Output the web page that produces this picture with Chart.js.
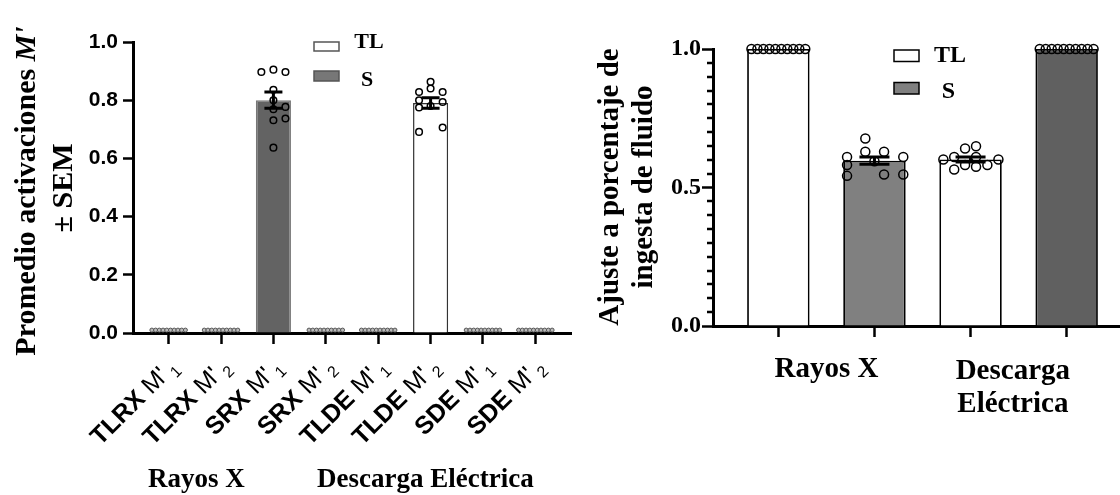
<!DOCTYPE html>
<html>
<head>
<meta charset="utf-8">
<script src="https://cdn.jsdelivr.net/npm/chart.js@4.4.1/dist/chart.umd.min.js"></script>
<style>
    html, body { margin: 0; padding: 0; background: #fff; overflow: hidden; width: 1120px; height: 495px; }
    #grafico1 { position: absolute; left: 0; top: 0; }
    #grafico2 { position: absolute; left: 560px; top: 0; }
</style>
</head>
<body>
<canvas id="grafico1" width="600" height="495"></canvas>
<canvas id="grafico2" width="600" height="495"></canvas>
<script>
// ---- Datos gráfica izquierda ----
const categoriasIzq = ['TLRX', 'TLRX', 'SRX', 'SRX', 'TLDE', 'TLDE', 'SDE', 'SDE'];
const subindicesIzq = ['1', '2', '1', '2', '1', '2', '1', '2'];
const gruposIzq = ['TL', 'TL', 'S', 'S', 'TL', 'TL', 'S', 'S'];
const promediosIzq = [0, 0, 0.80, 0, 0, 0.79, 0, 0];
const semIzq = [0, 0, 0.028, 0, 0, 0.018, 0, 0];
const puntosCero = [0.01, 0.01, 0.01, 0.01, 0.01, 0.01, 0.01, 0.01, 0.01, 0.01];
const puntosSRX = [0.897, 0.905, 0.897, 0.836, 0.800, 0.769, 0.777, 0.731, 0.737, 0.637];
const puntosTLDE = [0.863, 0.828, 0.840, 0.828, 0.800, 0.794, 0.775, 0.780, 0.691, 0.706];
const ticksIzq = [0, 0.2, 0.4, 0.6, 0.8, 1.0];
const gruposEtiquetaIzq = ['Rayos X', 'Descarga Eléctrica'];
const leyenda = ['TL', 'S'];

// ---- Datos gráfica derecha ----
const categoriasDer = ['Rayos X', 'Rayos X', 'Descarga', 'Descarga'];
const gruposDer = ['TL', 'S', 'TL', 'S'];
const promediosDer = [1.0, 0.597, 0.601, 1.0];
const semDer = [0, 0.013, 0.009, 0];
const puntosTLRX = [1, 1, 1, 1, 1, 1, 1, 1, 1, 1];
const puntosSRX2 = [0.677, 0.629, 0.629, 0.610, 0.610, 0.581, 0.542, 0.547, 0.547, 0.595];
const puntosTLDE2 = [0.641, 0.649, 0.601, 0.610, 0.610, 0.601, 0.565, 0.581, 0.575, 0.581];
const puntosSDE2 = [1, 1, 1, 1, 1, 1, 1, 1, 1, 1];
const ticksDer = [0, 0.5, 1.0];

// posiciones horizontales de los puntos (desplazamiento dentro de la barra)
const columnasSRX = [-0.23, 0, 0.23, 0, 0, 0, 0.23, 0, 0.23, 0];
const columnasTLDE = [0, -0.22, 0, 0.23, -0.22, 0.23, -0.22, 0, -0.22, 0.23];
const columnasSRX2 = [-0.095, -0.095, 0.1, -0.285, 0.3, -0.285, -0.285, 0.1, 0.3, 0];
const columnasTLDE2 = [-0.057, 0.057, -0.283, -0.17, 0.057, 0.29, -0.17, -0.057, 0.057, 0.175];

const serif = '"Liberation Serif", "Times New Roman", serif';
const sans = '"Liberation Sans", Arial, sans-serif';

// fila apretada de puntos (para valores iguales)
function fila(valores, centro, ancho) {
    return valores.map((v, k) => ({ x: centro - ancho + (2 * ancho * k) / (valores.length - 1), y: v }));
}
function dispersos(valores, centro, cols) {
    return valores.map((v, k) => ({ x: centro + cols[k], y: v }));
}

function barrasError(chart, promedios, sem, medioCap) {
    const ctx = chart.ctx;
    const xs = chart.scales.x, ys = chart.scales.y;
    ctx.save();
    ctx.strokeStyle = '#000';
    ctx.lineWidth = 3;
    promedios.forEach((p, i) => {
        if (!sem[i]) return;
        const x = xs.getPixelForValue(i);
        const y1 = ys.getPixelForValue(p + sem[i]);
        const y2 = ys.getPixelForValue(p - sem[i]);
        ctx.beginPath();
        ctx.moveTo(x, y1); ctx.lineTo(x, y2);
        ctx.moveTo(x - medioCap, y1); ctx.lineTo(x + medioCap, y1);
        ctx.moveTo(x - medioCap, y2); ctx.lineTo(x + medioCap, y2);
        ctx.stroke();
    });
    ctx.restore();
}

function cajaLeyenda(ctx, x, y, w, h, relleno, borde) {
    ctx.fillStyle = relleno;
    ctx.fillRect(x, y, w, h);
    ctx.strokeStyle = borde;
    ctx.lineWidth = 1.5;
    ctx.strokeRect(x, y, w, h);
}

function etiquetaRotada(ctx, x, y, base, sub) {
    ctx.save();
    ctx.translate(x, y);
    ctx.rotate(-Math.PI / 4);
    ctx.fillStyle = '#000';
    ctx.textBaseline = 'alphabetic';
    ctx.textAlign = 'left';
    const f1 = `bold 25px ${sans}`, f2 = `25px ${sans}`, f3 = `16px ${sans}`;
    ctx.font = f1; const w1 = ctx.measureText(base + ' ').width;
    ctx.font = f2; const w2 = ctx.measureText("M'").width + 4;
    ctx.font = f3; const w3 = ctx.measureText(sub).width;
    let cx = -(w1 + w2 + w3);
    ctx.font = f1; ctx.fillText(base + ' ', cx, 0); cx += w1;
    ctx.font = f2; ctx.fillText("M'", cx, 0); cx += w2;
    ctx.font = f3; ctx.fillText(sub, cx, 6);
    ctx.restore();
}

// ---------------- Gráfica izquierda ----------------
const coloresIzq = { TL: '#ffffff', S: '#636363' };
const bordesIzq = { TL: '#333333', S: '#777777' };
const puntosIzqGrandes = [
    ...dispersos(puntosSRX, 2, columnasSRX),
    ...dispersos(puntosTLDE, 5, columnasTLDE)
];
const puntosIzqCero = [];
promediosIzq.forEach((p, i) => { if (p === 0) puntosIzqCero.push(...fila(puntosCero, i, 0.32)); });

const plugIzq = {
    id: 'textosIzq',
    afterDatasetsDraw(chart) { barrasError(chart, promediosIzq, semIzq, 9); },
    afterDraw(chart) {
        const ctx = chart.ctx;
        const xs = chart.scales.x;
        categoriasIzq.forEach((c, i) => etiquetaRotada(ctx, xs.getPixelForValue(i) + 10, 368, c, subindicesIzq[i]));

        ctx.save();
        ctx.fillStyle = '#000';
        ctx.textAlign = 'center';
        ctx.textBaseline = 'alphabetic';
        ctx.font = `bold 27px ${serif}`;
        ctx.fillText(gruposEtiquetaIzq[0], xs.getPixelForValue(0.53), 487);
        ctx.fillText(gruposEtiquetaIzq[1], xs.getPixelForValue(4.9), 487);

        // leyenda
        cajaLeyenda(ctx, 314, 42, 25, 9, coloresIzq.TL, '#555');
        cajaLeyenda(ctx, 314, 71, 25, 10, '#777777', '#555');
        ctx.fillStyle = '#000';
        ctx.font = `bold 22px ${serif}`;
        ctx.fillText(leyenda[0], 369, 48);
        ctx.fillText(leyenda[1], 367, 86);

        // título eje Y
        ctx.translate(0, 191);
        ctx.rotate(-Math.PI / 2);
        const t1 = 'Promedio activaciones ';
        ctx.font = `bold 30px ${serif}`;
        const a1 = ctx.measureText(t1).width;
        ctx.font = `italic bold 30px ${serif}`;
        const a2 = ctx.measureText("M'").width;
        ctx.textAlign = 'left';
        ctx.font = `bold 30px ${serif}`;
        ctx.fillText(t1, -(a1 + a2) / 2, 35);
        ctx.font = `italic bold 30px ${serif}`;
        ctx.fillText("M'", -(a1 + a2) / 2 + a1, 35);
        ctx.textAlign = 'center';
        ctx.font = `bold 30px ${serif}`;
        ctx.fillText('± SEM', 3, 72);
        ctx.restore();
    }
};

new Chart(document.getElementById('grafico1'), {
    type: 'bar',
    data: {
        datasets: [
            {
                type: 'scatter',
                data: puntosIzqGrandes,
                pointRadius: 3.3,
                pointBorderWidth: 1.5,
                pointBorderColor: '#000',
                pointBackgroundColor: 'rgba(0,0,0,0)',
                clip: false,
                order: 0
            },
            {
                type: 'scatter',
                data: puntosIzqCero,
                pointRadius: 2,
                pointBorderWidth: 1,
                pointBorderColor: '#555',
                pointBackgroundColor: '#bbb',
                clip: false,
                order: 0
            },
            {
                data: promediosIzq.map((p, i) => ({ x: i, y: p })),
                backgroundColor: gruposIzq.map(g => coloresIzq[g]),
                borderColor: gruposIzq.map(g => bordesIzq[g]),
                borderWidth: 1.5,
                barPercentage: 0.67,
                categoryPercentage: 1,
                order: 1
            }
        ]
    },
    options: {
        responsive: false,
        animation: false,
        layout: { padding: { left: 0, top: 42, right: 29, bottom: 0 } },
        plugins: { legend: { display: false }, tooltip: { enabled: false } },
        scales: {
            x: {
                type: 'linear', min: -0.68, max: 7.68, offset: false, bounds: 'data',
                afterBuildTicks: s => { s.ticks = categoriasIzq.map((c, i) => ({ value: i })); },
                afterFit: s => { s.height = 162; },
                ticks: { display: false },
                grid: { display: true, offset: false, drawOnChartArea: false, drawTicks: true, tickLength: 11, tickWidth: 2.5, tickColor: '#000' },
                border: { display: true, color: '#000', width: 3 }
            },
            y: {
                min: 0, max: 1,
                afterBuildTicks: s => { s.ticks = ticksIzq.map(v => ({ value: v })); },
                afterFit: s => { s.width = 133; },
                ticks: { color: '#000', padding: 5, font: { family: sans, weight: 'bold', size: 21 }, callback: v => v.toFixed(1) },
                grid: { drawOnChartArea: false, tickLength: 10, tickWidth: 2.5, tickColor: '#000' },
                border: { color: '#000', width: 3 }
            }
        }
    },
    plugins: [plugIzq]
});

// ---------------- Gráfica derecha ----------------
const coloresDer = ['#ffffff', '#808080', '#ffffff', '#606060'];
const puntosDer = [
    ...fila(puntosTLRX, 0, 0.28),
    ...dispersos(puntosSRX2, 1, columnasSRX2),
    ...dispersos(puntosTLDE2, 2, columnasTLDE2),
    ...fila(puntosSDE2, 3, 0.28)
];
const ticksMenoresDer = [];
for (let k = 0; k <= 20; k++) ticksMenoresDer.push(k / 20);

const plugDer = {
    id: 'textosDer',
    afterDatasetsDraw(chart) { barrasError(chart, promediosDer, semDer, 15); },
    afterDraw(chart) {
        const ctx = chart.ctx;
        const xs = chart.scales.x, ys = chart.scales.y;
        ctx.save();
        // ticks menores
        ctx.strokeStyle = '#000';
        ctx.lineWidth = 2.5;
        ctx.beginPath();
        ticksMenoresDer.forEach(v => {
            if (ticksDer.some(t => Math.abs(t - v) < 1e-6)) return;
            const y = Math.round(ys.getPixelForValue(v));
            ctx.moveTo(chart.chartArea.left - 6, y);
            ctx.lineTo(chart.chartArea.left, y);
        });
        ctx.stroke();

        ctx.fillStyle = '#000';
        ctx.textAlign = 'center';
        ctx.textBaseline = 'alphabetic';
        ctx.font = `bold 29px ${serif}`;
        ctx.fillText(categoriasDer[0], xs.getPixelForValue(0.5), 377);
        ctx.fillText(categoriasDer[2], xs.getPixelForValue(2.44), 379);
        ctx.fillText('Eléctrica', xs.getPixelForValue(2.44), 412);

        // leyenda
        cajaLeyenda(ctx, 334, 50, 25, 11.5, '#ffffff', '#000');
        cajaLeyenda(ctx, 334, 82.5, 25, 11.5, '#808080', '#000');
        ctx.fillStyle = '#000';
        ctx.font = `bold 24px ${serif}`;
        ctx.fillText(leyenda[0], 390, 61.5);
        ctx.fillText(leyenda[1], 388.5, 97.5);

        // título eje Y
        ctx.translate(0, 187);
        ctx.rotate(-Math.PI / 2);
        ctx.font = `bold 29px ${serif}`;
        ctx.fillText('Ajuste a porcentaje de', 0, 58);
        ctx.fillText('ingesta de fluido', 0, 92);
        ctx.restore();
    }
};

new Chart(document.getElementById('grafico2'), {
    type: 'bar',
    data: {
        datasets: [
            {
                type: 'scatter',
                data: puntosDer,
                pointRadius: 4.5,
                pointBorderWidth: 1.5,
                pointBorderColor: '#000',
                pointBackgroundColor: 'rgba(0,0,0,0)',
                clip: false,
                order: 0
            },
            {
                data: promediosDer.map((p, i) => ({ x: i, y: p })),
                backgroundColor: coloresDer,
                borderColor: '#000',
                borderWidth: 1.8,
                barPercentage: 0.65,
                categoryPercentage: 1,
                order: 1
            }
        ]
    },
    options: {
        responsive: false,
        animation: false,
        layout: { padding: { left: 0, top: 49, right: 28, bottom: 0 } },
        plugins: { legend: { display: false }, tooltip: { enabled: false } },
        scales: {
            x: {
                type: 'linear', min: -0.68, max: 3.68, offset: false, bounds: 'data',
                afterBuildTicks: s => { s.ticks = categoriasDer.map((c, i) => ({ value: i })); },
                afterFit: s => { s.height = 169; },
                ticks: { display: false },
                grid: { display: true, offset: false, drawOnChartArea: false, drawTicks: true, tickLength: 11, tickWidth: 2.5, tickColor: '#000' },
                border: { display: true, color: '#000', width: 3 }
            },
            y: {
                min: 0, max: 1,
                afterBuildTicks: s => { s.ticks = ticksDer.map(v => ({ value: v })); },
                afterFit: s => { s.width = 153; },
                ticks: { color: '#000', padding: 1, font: { family: serif, weight: 'bold', size: 24 }, callback: v => v.toFixed(1) },
                grid: { drawOnChartArea: false, tickLength: 11, tickWidth: 2.5, tickColor: '#000' },
                border: { color: '#000', width: 3 }
            }
        }
    },
    plugins: [plugDer]
});
</script>
</body>
</html>
